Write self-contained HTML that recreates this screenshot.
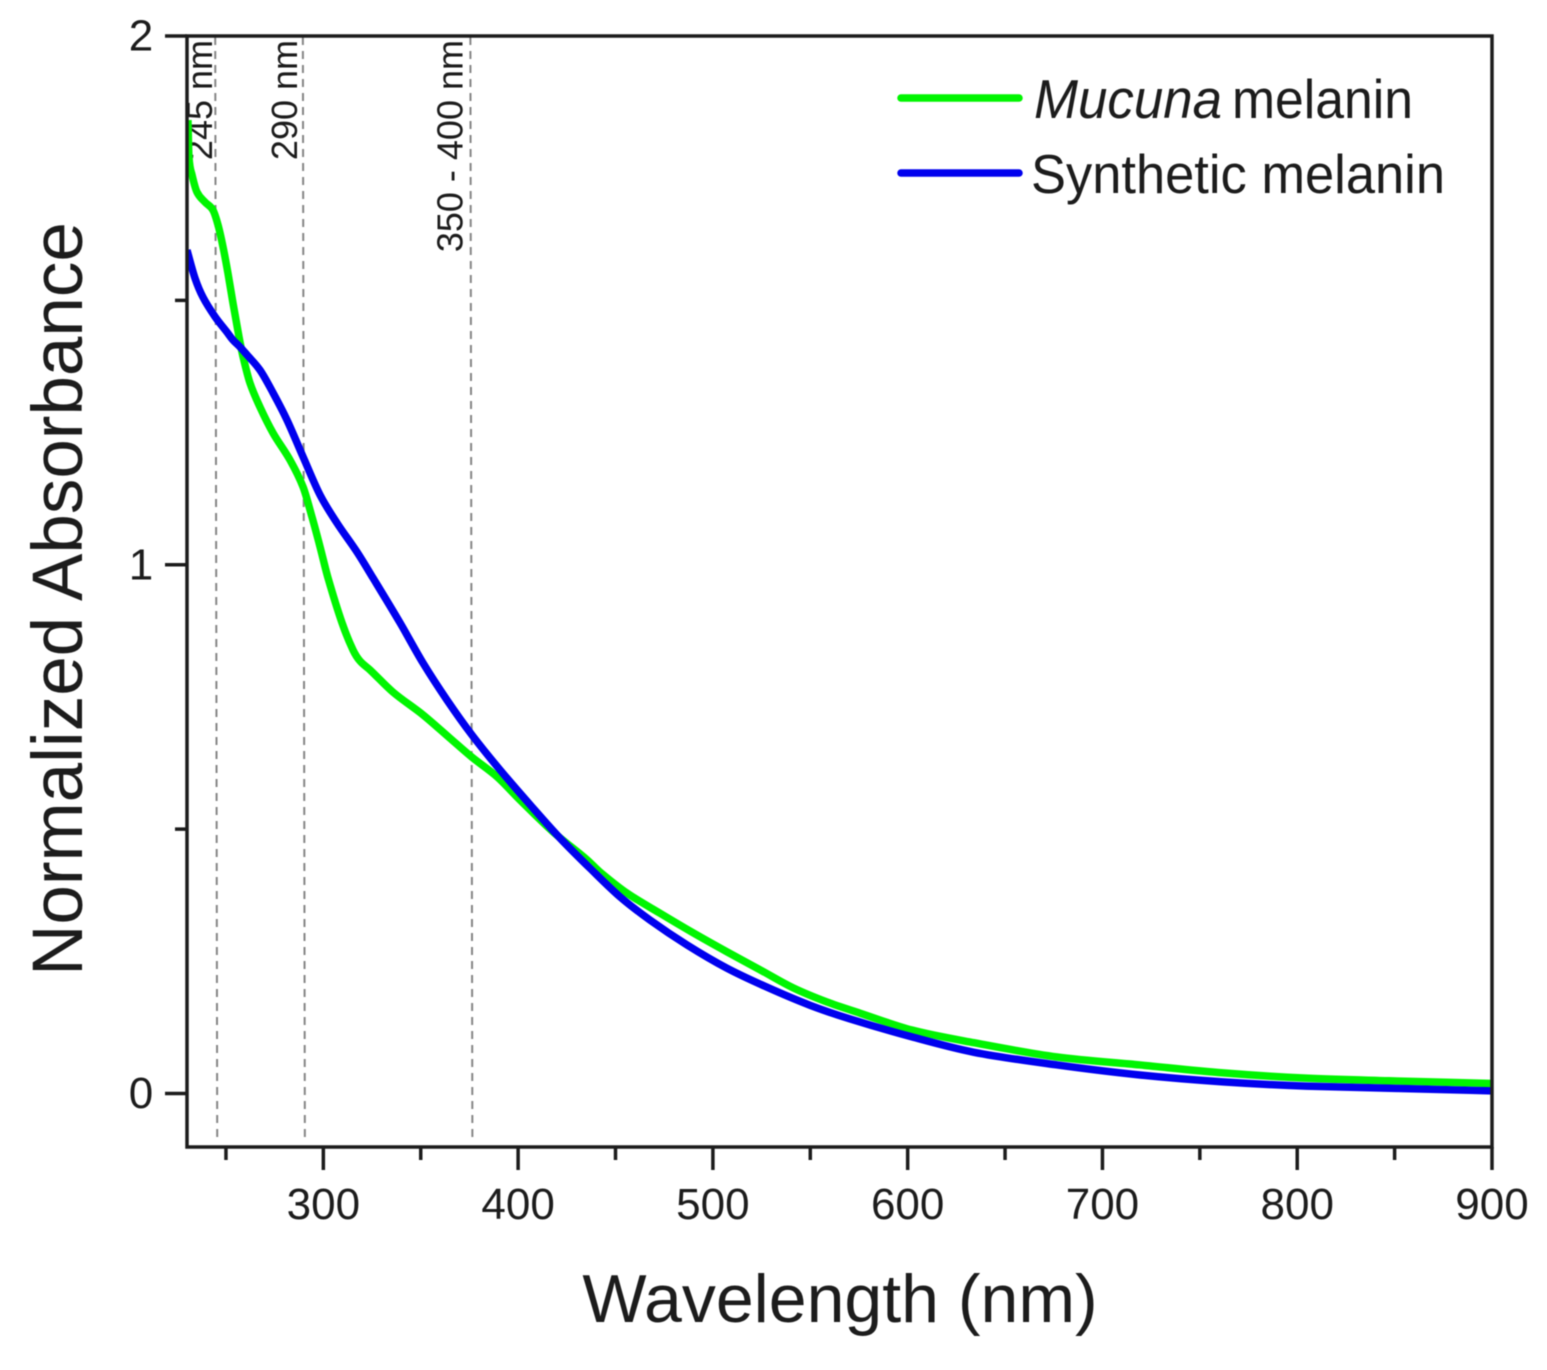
<!DOCTYPE html>
<html>
<head>
<meta charset="utf-8">
<title>Normalized absorbance of melanin</title>
<style>
html,body{margin:0;padding:0;background:#fff;width:1547px;height:1370px;overflow:hidden}
svg{display:block;position:absolute;left:0;top:0;filter:blur(0.5px)}
text{font-family:"Liberation Sans",sans-serif;fill:#1c1c1c}
</style>
</head>
<body>
<svg id="chart" width="1547" height="1370" viewBox="0 0 1547 1370" xmlns="http://www.w3.org/2000/svg">
<defs><clipPath id="plot-clip"><rect x="186" y="36" width="1306" height="1111"/></clipPath></defs>
<g id="refs"></g>
<g id="series" clip-path="url(#plot-clip)"></g>
<g id="axes"></g>
<text x="840" y="1322" font-size="68" text-anchor="middle">Wavelength (nm)</text>
<text transform="translate(82,599) rotate(-90)" font-size="71" text-anchor="middle">Normalized Absorbance</text>
<g>
<line x1="901" y1="98" x2="1019" y2="98" stroke="#00f500" stroke-width="7.5" stroke-linecap="round"/>
<text x="1034" y="118" font-size="55"><tspan font-style="italic" textLength="188" lengthAdjust="spacingAndGlyphs">Mucuna</tspan><tspan x="1232" textLength="181" lengthAdjust="spacingAndGlyphs">melanin</tspan></text>
<line x1="901" y1="173" x2="1019" y2="173" stroke="#0000ee" stroke-width="7.5" stroke-linecap="round"/>
<text x="1031" y="193" font-size="55" textLength="414" lengthAdjust="spacingAndGlyphs">Synthetic melanin</text>
</g>
</svg>
<script>
var mucunaWavelengths = [230.5,231,232.6,235.1,239.2,243.3,245.9,248.5,251,253.6,256.7,258.8,262.3,267.5,274.2,282.9,289.6,294.2,298.3,302.4,309.6,315.2,318.8,324,335.8,351.2,365,376.3,389.2,401,417.9,435.4,442,455.9,472.8,489.8,507.2,524.2,541.1,558.6,575.5,602.2,634,676.7,719.3,761.9,804.5,847.1,900];
var mucunaValues = [1.841,1.771,1.737,1.705,1.686,1.671,1.643,1.601,1.552,1.495,1.431,1.393,1.344,1.298,1.249,1.198,1.147,1.090,1.034,0.975,0.890,0.839,0.818,0.801,0.759,0.716,0.672,0.636,0.599,0.555,0.495,0.442,0.419,0.379,0.341,0.304,0.268,0.234,0.200,0.173,0.152,0.120,0.096,0.069,0.054,0.039,0.029,0.024,0.019];
var syntheticWavelengths = [230,234.1,238.2,244.4,250.5,253.6,257.2,260.8,267.5,274.2,281.3,289.6,298.3,307,317.3,325.5,339.4,351.2,363.5,376.3,390.7,407.6,421.5,436.9,452.3,467.7,486.7,507.2,527.8,549.8,570.4,602.2,634,676.7,719.3,761.9,804.5,900];
var syntheticValues = [1.595,1.542,1.506,1.469,1.440,1.425,1.412,1.397,1.368,1.325,1.274,1.204,1.132,1.079,1.024,0.975,0.890,0.814,0.744,0.678,0.612,0.540,0.483,0.426,0.372,0.328,0.281,0.237,0.201,0.167,0.141,0.107,0.078,0.054,0.035,0.022,0.014,0.005];
var xMajorTicks = [300,400,500,600,700,800,900];
var xMinorTicks = [250,350,450,550,650,750,850];
var yMajorTicks = [0,1,2];
var yMinorTicks = [0.5,1.5];
var referenceWavelengths = [245,290,376];
var referenceLabels = ["245 nm","290 nm","350 - 400 nm"];

var NS = "http://www.w3.org/2000/svg";
var xDomain = [230,900], xRange = [187,1492];
var yDomain = [0,2], yRange = [1093.5,36];
function xScale(v){ return xRange[0] + (v - xDomain[0]) * (xRange[1] - xRange[0]) / (xDomain[1] - xDomain[0]); }
function yScale(v){ return yRange[0] + (v - yDomain[0]) * (yRange[1] - yRange[0]) / (yDomain[1] - yDomain[0]); }
function make(tag, parent, attrs){
  var el = document.createElementNS(NS, tag);
  for (var k in attrs) el.setAttribute(k, attrs[k]);
  parent.appendChild(el);
  return el;
}
function curvePath(xs, ys){
  var n = xs.length, px = [], py = [], m = [], i;
  for (i = 0; i < n; i++){ px.push(xScale(xs[i])); py.push(yScale(ys[i])); }
  for (i = 0; i < n; i++){
    var a = Math.max(i - 1, 0), b = Math.min(i + 1, n - 1);
    m.push((py[b] - py[a]) / (px[b] - px[a]));
  }
  var d = "M" + px[0].toFixed(2) + " " + py[0].toFixed(2);
  for (i = 0; i < n - 1; i++){
    var h = (px[i + 1] - px[i]) / 3;
    d += "C" + (px[i] + h).toFixed(2) + " " + (py[i] + m[i] * h).toFixed(2) + " " +
         (px[i + 1] - h).toFixed(2) + " " + (py[i + 1] - m[i + 1] * h).toFixed(2) + " " +
         px[i + 1].toFixed(2) + " " + py[i + 1].toFixed(2);
  }
  return d;
}

var refs = document.getElementById("refs");
referenceWavelengths.forEach(function(w, i){
  var x = xScale(w);
  var line = make("line", refs, {x1:x - 1, y1:37, x2:x + 1, y2:1142, stroke:"#858585", "stroke-width":2, "stroke-dasharray":"8 6"});
  
  
  var labelGap = i === 0 ? 4 : (i === 1 ? 7 : 9);
  var label = make("text", refs, {transform:"translate(" + (x - labelGap) + ",40) rotate(-90)", "font-size":36, "text-anchor":"end"});
  
  
  label.textContent = referenceLabels[i];
});

var series = document.getElementById("series");
var greenPath = make("path", series, {d:curvePath(mucunaWavelengths, mucunaValues), fill:"none", stroke:"#00f500", "stroke-width":7.5, "stroke-linejoin":"round"});


var bluePath = make("path", series, {d:curvePath(syntheticWavelengths, syntheticValues), fill:"none", stroke:"#0000ee", "stroke-width":7.5, "stroke-linejoin":"round"});



var axes = document.getElementById("axes");
var frame = make("rect", axes, {x:187, y:36, width:1305, height:1111, fill:"none", stroke:"#1c1c1c", "stroke-width":3.5});



xMajorTicks.forEach(function(v){
  var x = xScale(v);
  var t = make("line", axes, {x1:x, y1:1147, x2:x, y2:1170, stroke:"#1c1c1c", "stroke-width":3.5});
  
  
  var l = make("text", axes, {x:x, y:1219, "font-size":44, "text-anchor":"middle"});
  
  
  l.textContent = v;
});
xMinorTicks.forEach(function(v){
  var t = make("line", axes, {x1:xScale(v), y1:1147, x2:xScale(v), y2:1160, stroke:"#1c1c1c", "stroke-width":3.5});
  
  
});
yMajorTicks.forEach(function(v){
  var y = yScale(v);
  var t = make("line", axes, {x1:165, y1:y, x2:187, y2:y, stroke:"#1c1c1c", "stroke-width":3.5});
  
  
  var l = make("text", axes, {x:141, y:y + 14.5, "font-size":44, "text-anchor":"middle"});
  
  
  l.textContent = v;
});
yMinorTicks.forEach(function(v){
  var t = make("line", axes, {x1:175, y1:yScale(v), x2:187, y2:yScale(v), stroke:"#1c1c1c", "stroke-width":3.5});
  
  
});
</script>
</body>
</html>
